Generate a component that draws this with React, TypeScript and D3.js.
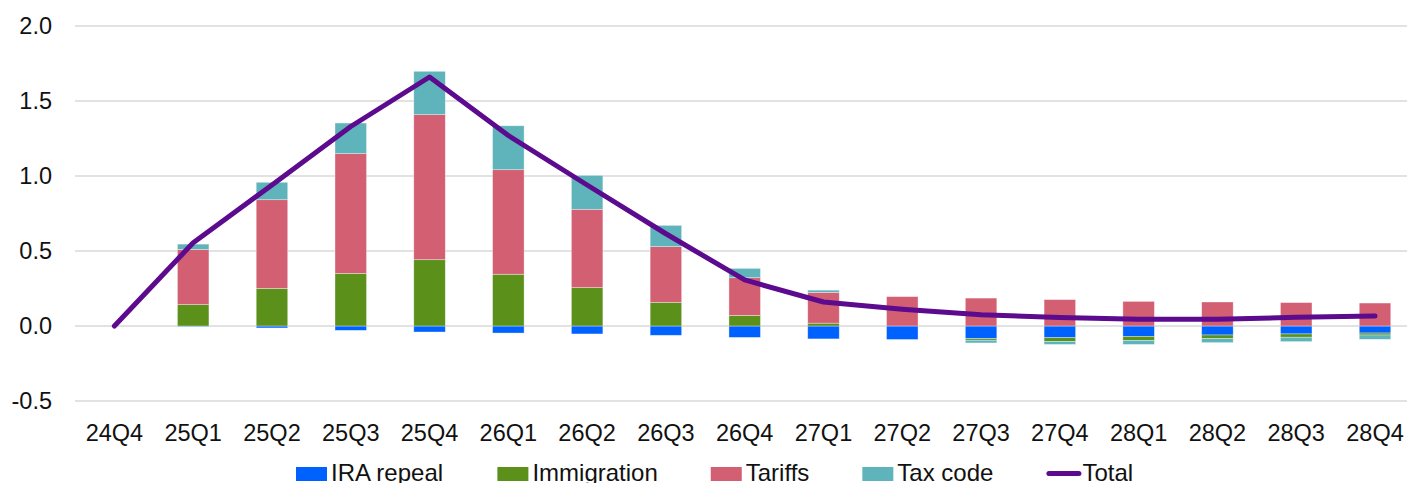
import React from "react";
import * as d3 from "d3";

// Quarterly contributions by policy, with the combined total
const quarters = ["24Q4", "25Q1", "25Q2", "25Q3", "25Q4", "26Q1", "26Q2", "26Q3", "26Q4", "27Q1", "27Q2", "27Q3", "27Q4", "28Q1", "28Q2", "28Q3", "28Q4"];
const iraRepeal = [0, -0.005, -0.013, -0.029, -0.04, -0.047, -0.053, -0.062, -0.076, -0.086, -0.09, -0.084, -0.078, -0.069, -0.06, -0.053, -0.047];
const immigration = [0, 0.143, 0.251, 0.351, 0.442, 0.345, 0.256, 0.158, 0.071, 0.019, 0, -0.011, -0.025, -0.027, -0.024, -0.022, -0.013];
const tariffs = [0, 0.368, 0.591, 0.798, 0.967, 0.697, 0.522, 0.371, 0.251, 0.205, 0.196, 0.186, 0.176, 0.164, 0.16, 0.156, 0.153];
const taxCode = [0, 0.035, 0.116, 0.204, 0.289, 0.293, 0.226, 0.142, 0.062, 0.015, 0, -0.018, -0.02, -0.027, -0.027, -0.029, -0.029];
const total = [0, 0.555, 0.94, 1.33, 1.66, 1.27, 0.94, 0.615, 0.307, 0.16, 0.112, 0.075, 0.056, 0.045, 0.045, 0.058, 0.066];
const yTicks = [-0.5, 0, 0.5, 1.0, 1.5, 2.0];

const seriesNames = ["IRA repeal", "Immigration", "Tariffs", "Tax code"];
const seriesValues = [iraRepeal, immigration, tariffs, taxCode];
const seriesColors = ["#0062fe", "#5b901b", "#d35f73", "#5fb4bb"];
const totalColor = "#5c0a8e";

const W = 1407;
const H = 483;
const FONT = "'Liberation Sans', Arial, sans-serif";

function textWidth(s: string, size: number) {
  const ctx = document.createElement("canvas").getContext("2d");
  if (!ctx) return s.length * size * 0.5;
  ctx.font = `${size}px ${FONT}`;
  return ctx.measureText(s).width;
}

export default function App() {
  const x = d3
    .scaleBand<string>()
    .domain(quarters)
    .range([75, 1414.4])
    .paddingInner(0.6)
    .paddingOuter(0.3);
  const y = d3.scaleLinear().domain([-0.5, 2.0]).range([401, 26]);
  const cx = (q: string) => (x(q) as number) + x.bandwidth() / 2;

  const rows = quarters.map((q, i) => {
    const r: any = { q };
    seriesNames.forEach((n, k) => (r[n] = seriesValues[k][i]));
    return r;
  });
  const stacked = d3
    .stack<any>()
    .keys(seriesNames)
    .offset(d3.stackOffsetDiverging)(rows);

  const line = d3
    .line<number>()
    .x((_, i) => cx(quarters[i]))
    .y((d) => y(d));

  // plain hyphen for negatives
  const fmt = (v: number) => d3.format(".1f")(v).replace("\u2212", "-");

  // legend layout: swatch, label, gap
  const legendY = 474;
  const legendItems: { name: string; x: number; color: string; isLine: boolean }[] = [];
  let lx = 296;
  seriesNames.forEach((n, k) => {
    legendItems.push({ name: n, x: lx, color: seriesColors[k], isLine: false });
    lx += 31 + 4 + textWidth(n, 24) + 53;
  });
  legendItems.push({ name: "Total", x: lx, color: totalColor, isLine: true });

  return (
    <svg
      width={W}
      height={H}
      style={{ position: "absolute", left: 0, top: 0, background: "#fff" }}
      fontFamily={FONT}
    >
      {/* gridlines */}
      {yTicks.map((t) => (
        <line key={t} x1={75} x2={W} y1={y(t)} y2={y(t)} stroke="#d9d9d9" strokeWidth={1.5} />
      ))}
      {/* y tick labels */}
      {yTicks.map((t) => (
        <text key={"l" + t} x={52} y={y(t)} dy="0.36em" textAnchor="end" fontSize={23.5} fill="#111">
          {fmt(t)}
        </text>
      ))}
      {/* stacked bars */}
      {stacked.map((s, k) => (
        <g key={s.key} fill={seriesColors[k]}>
          {s.map((d, i) => {
            const y0 = y(d[0]);
            const y1 = y(d[1]);
            const h = Math.abs(y0 - y1);
            if (h < 0.01) return null;
            return (
              <rect
                key={i}
                x={x(quarters[i])}
                y={Math.min(y0, y1)}
                width={x.bandwidth()}
                height={h}
                stroke="#fff"
                strokeWidth={0.7}
                strokeOpacity={0.5}
              />
            );
          })}
        </g>
      ))}
      {/* total line */}
      <path
        d={line(total) || ""}
        fill="none"
        stroke={totalColor}
        strokeWidth={5}
        strokeLinejoin="round"
        strokeLinecap="round"
      />
      {/* x labels */}
      {quarters.map((q) => (
        <text key={q} x={cx(q)} y={441} textAnchor="middle" fontSize={23.5} fill="#111">
          {q}
        </text>
      ))}
      {/* legend */}
      {legendItems.map((it) =>
        it.isLine ? (
          <g key={it.name}>
            <line
              x1={it.x + 2.5}
              x2={it.x + 32.5}
              y1={legendY - 0.5}
              y2={legendY - 0.5}
              stroke={it.color}
              strokeWidth={5}
              strokeLinecap="round"
            />
            <text x={it.x + 36} y={481} fontSize={24} fill="#111">
              {it.name}
            </text>
          </g>
        ) : (
          <g key={it.name}>
            <rect x={it.x} y={legendY - 7} width={31} height={14} fill={it.color} />
            <text x={it.x + 35} y={481} fontSize={24} fill="#111">
              {it.name}
            </text>
          </g>
        )
      )}
    </svg>
  );
}
